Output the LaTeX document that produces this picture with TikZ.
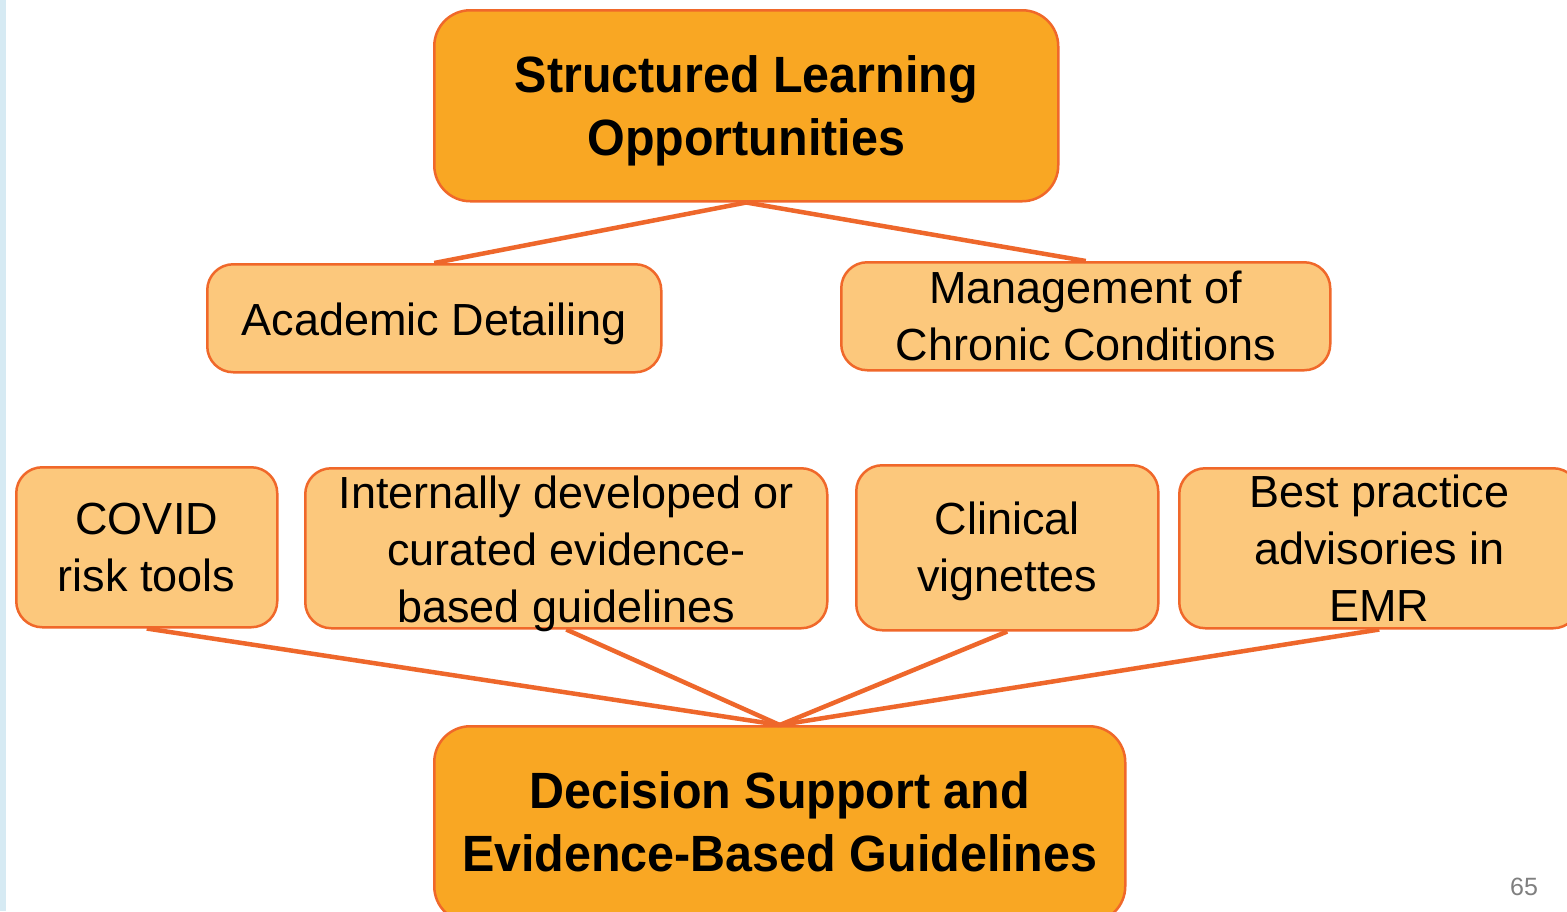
\documentclass[tikz,border=0pt]{standalone}
\usepackage{fontspec}
\setmainfont{Liberation Sans}
\newfontfamily\headfont{Liberation Sans}[FakeStretch=0.95]
\definecolor{edgeorange}{HTML}{F0682A}
\definecolor{linkorange}{HTML}{EE672B}
\definecolor{mainfill}{HTML}{F9A723}
\definecolor{itemfill}{HTML}{FCC87C}
\definecolor{sidebar}{HTML}{D6EAF3}
\definecolor{pagegray}{HTML}{7F7F7F}
\tikzset{
  mainbox/.style={draw=edgeorange, line width=2.5pt, fill=mainfill, rounded corners=36pt,
    inner sep=0pt, anchor=north west},
  itembox/.style={draw=edgeorange, line width=2.5pt, fill=itemfill, rounded corners=26pt,
    inner sep=0pt, anchor=north west},
  maintext/.style={inner sep=0pt, align=center,
    font=\headfont\bfseries\fontsize{51}{63}\selectfont},
  itemtext/.style={inner sep=0pt, align=center,
    font=\fontsize{45}{57}\selectfont},
  link/.style={draw=linkorange, line width=4.5pt}
}
\begin{document}
\begin{tikzpicture}[x=1pt, y=-1pt]
  \useasboundingbox (0,0) rectangle (1567,911);
  \clip (0,0) rectangle (1567,911);
  \fill[white] (0,0) rectangle (1567,911);
  \fill[sidebar] (0,0) rectangle (6,911);

  % headline boxes
  \node[mainbox, minimum width=624pt, minimum height=191pt] (top) at (433,9) {};
  \node[mainbox, minimum width=691pt, minimum height=196pt] (bottom) at (433,725) {};

  % second row
  \node[itembox, minimum width=454pt, minimum height=108pt] (acad) at (206,263) {};
  \node[itembox, minimum width=489pt, minimum height=108pt] (mgmt) at (840,261) {};

  % third row
  \node[itembox, minimum width=261pt, minimum height=160pt] (covid) at (15,466) {};
  \node[itembox, minimum width=522pt, minimum height=160pt] (intern) at (304,467) {};
  \node[itembox, minimum width=302pt, minimum height=165pt] (clin) at (855,464) {};
  \node[itembox, minimum width=400pt, minimum height=160pt] (best) at (1178,467) {};

  % connectors
  \draw[link] (top.south) -- (acad.north);
  \draw[link] (top.south) -- (mgmt.north);
  \draw[link] (covid.south) -- (bottom.north);
  \draw[link] (intern.south) -- (bottom.north);
  \draw[link] (clin.south) -- (bottom.north);
  \draw[link] (best.south) -- (bottom.north);

  % box texts
  \node[maintext] (toptext) at ([yshift=-5pt]top.center) {Structured Learning\\Opportunities};
  \node[maintext] (bottomtext) at ([yshift=2pt]bottom.center) {Decision Support and\\Evidence-Based Guidelines};
  \node[itemtext] (acadtext) at ([yshift=-6pt]acad.center) {Academic Detailing};
  \node[itemtext] (mgmttext) at (mgmt.center) {Management of\\Chronic Conditions};
  \node[itemtext] (covidtext) at (covid.center) {COVID\\risk tools};
  \node[itemtext] (interntext) at ([yshift=-6pt]intern.center) {Internally developed or\\curated evidence-\\based guidelines};
  \node[itemtext] (clintext) at ([yshift=-4pt]clin.center) {Clinical\\vignettes};
  \node[itemtext] (besttext) at (best.center) {Best practice\\advisories in\\EMR};

  % page number
  \node[text=pagegray, font=\fontsize{25}{30}\selectfont] (pagenum) at (1524,887) {65};
\end{tikzpicture}
\end{document}
